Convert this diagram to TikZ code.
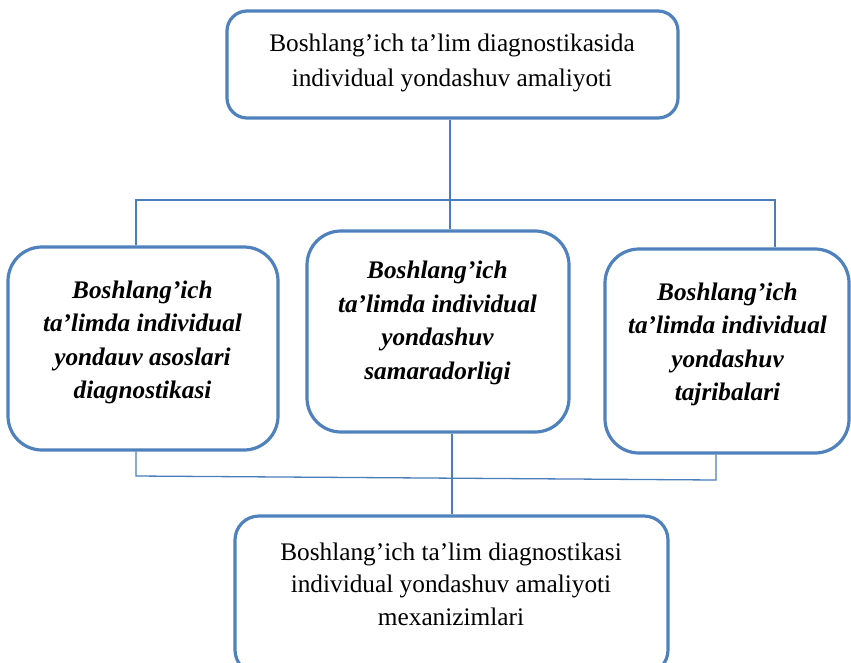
\documentclass[tikz,border=0pt]{standalone}
\usepackage{fontspec}
\setmainfont{Liberation Serif}
\definecolor{boxblue}{RGB}{79,129,189}
\definecolor{lineblue}{RGB}{74,126,187}
\begin{document}
\begin{tikzpicture}[x=1pt,y=-1pt,
  box/.style={draw=boxblue, line width=3.2pt, rectangle, inner sep=0pt},
  conn/.style={draw=lineblue, line width=1.3pt},
  txt/.style={align=center, inner sep=0pt, font=\fontsize{25.3}{#1}\selectfont},
  txt/.default=33,
  btxt/.style={align=center, inner sep=0pt, font=\fontsize{25.3}{33.5}\selectfont\bfseries\itshape}]
\clip (0,0) rectangle (851,662);
% boxes
\node[box, minimum width=451pt, minimum height=107pt, rounded corners=20pt] (top) at (452.5,64.5) {};
\node[box, minimum width=270pt, minimum height=203pt, rounded corners=34pt] (lb) at (143,348.5) {};
\node[box, minimum width=262pt, minimum height=201pt, rounded corners=34pt] (mid) at (438,331.5) {};
\node[box, minimum width=244pt, minimum height=204pt, rounded corners=34pt] (rb) at (727,351) {};
\node[box, minimum width=433pt, minimum height=158pt, rounded corners=24pt] (bot) at (451.5,595) {};
% texts
\node[txt=35] (toptext) at (452,63) {Boshlang’ich ta’lim diagnostikasida\\individual yondashuv amaliyoti};
\node[btxt] (lbtext) at (142.5,342.5) {Boshlang’ich\\ta’limda individual\\yondauv asoslari\\diagnostikasi};
\node[btxt] (midtext) at (437.5,323) {Boshlang’ich\\ta’limda individual\\yondashuv\\samaradorligi};
\node[btxt] (rbtext) at (727.5,344.5) {Boshlang’ich\\ta’limda individual\\yondashuv\\tajribalari};
\node[txt=32.5] (bottext) at (451,584) {Boshlang’ich ta’lim diagnostikasi\\individual yondashuv amaliyoti\\mexanizimlari};
% connectors
\coordinate (tj) at (450,200);
\coordinate (jl) at (136,200);
\coordinate (jr) at (775,200);
\coordinate (bl) at (136,476);
\coordinate (br) at (716,480);
\coordinate (bm) at (452,478);
\draw[conn] (tj |- top.south) -- (tj |- mid.north);
\draw[conn] (jl |- lb.north) -- (jl) -- (jr) -- (jr |- rb.north);
\draw[conn] (bl |- lb.south) -- (bl) -- (br) -- (br |- rb.south);
\draw[conn] (bm |- mid.south) -- (bm |- bot.north);
\end{tikzpicture}
\end{document}
